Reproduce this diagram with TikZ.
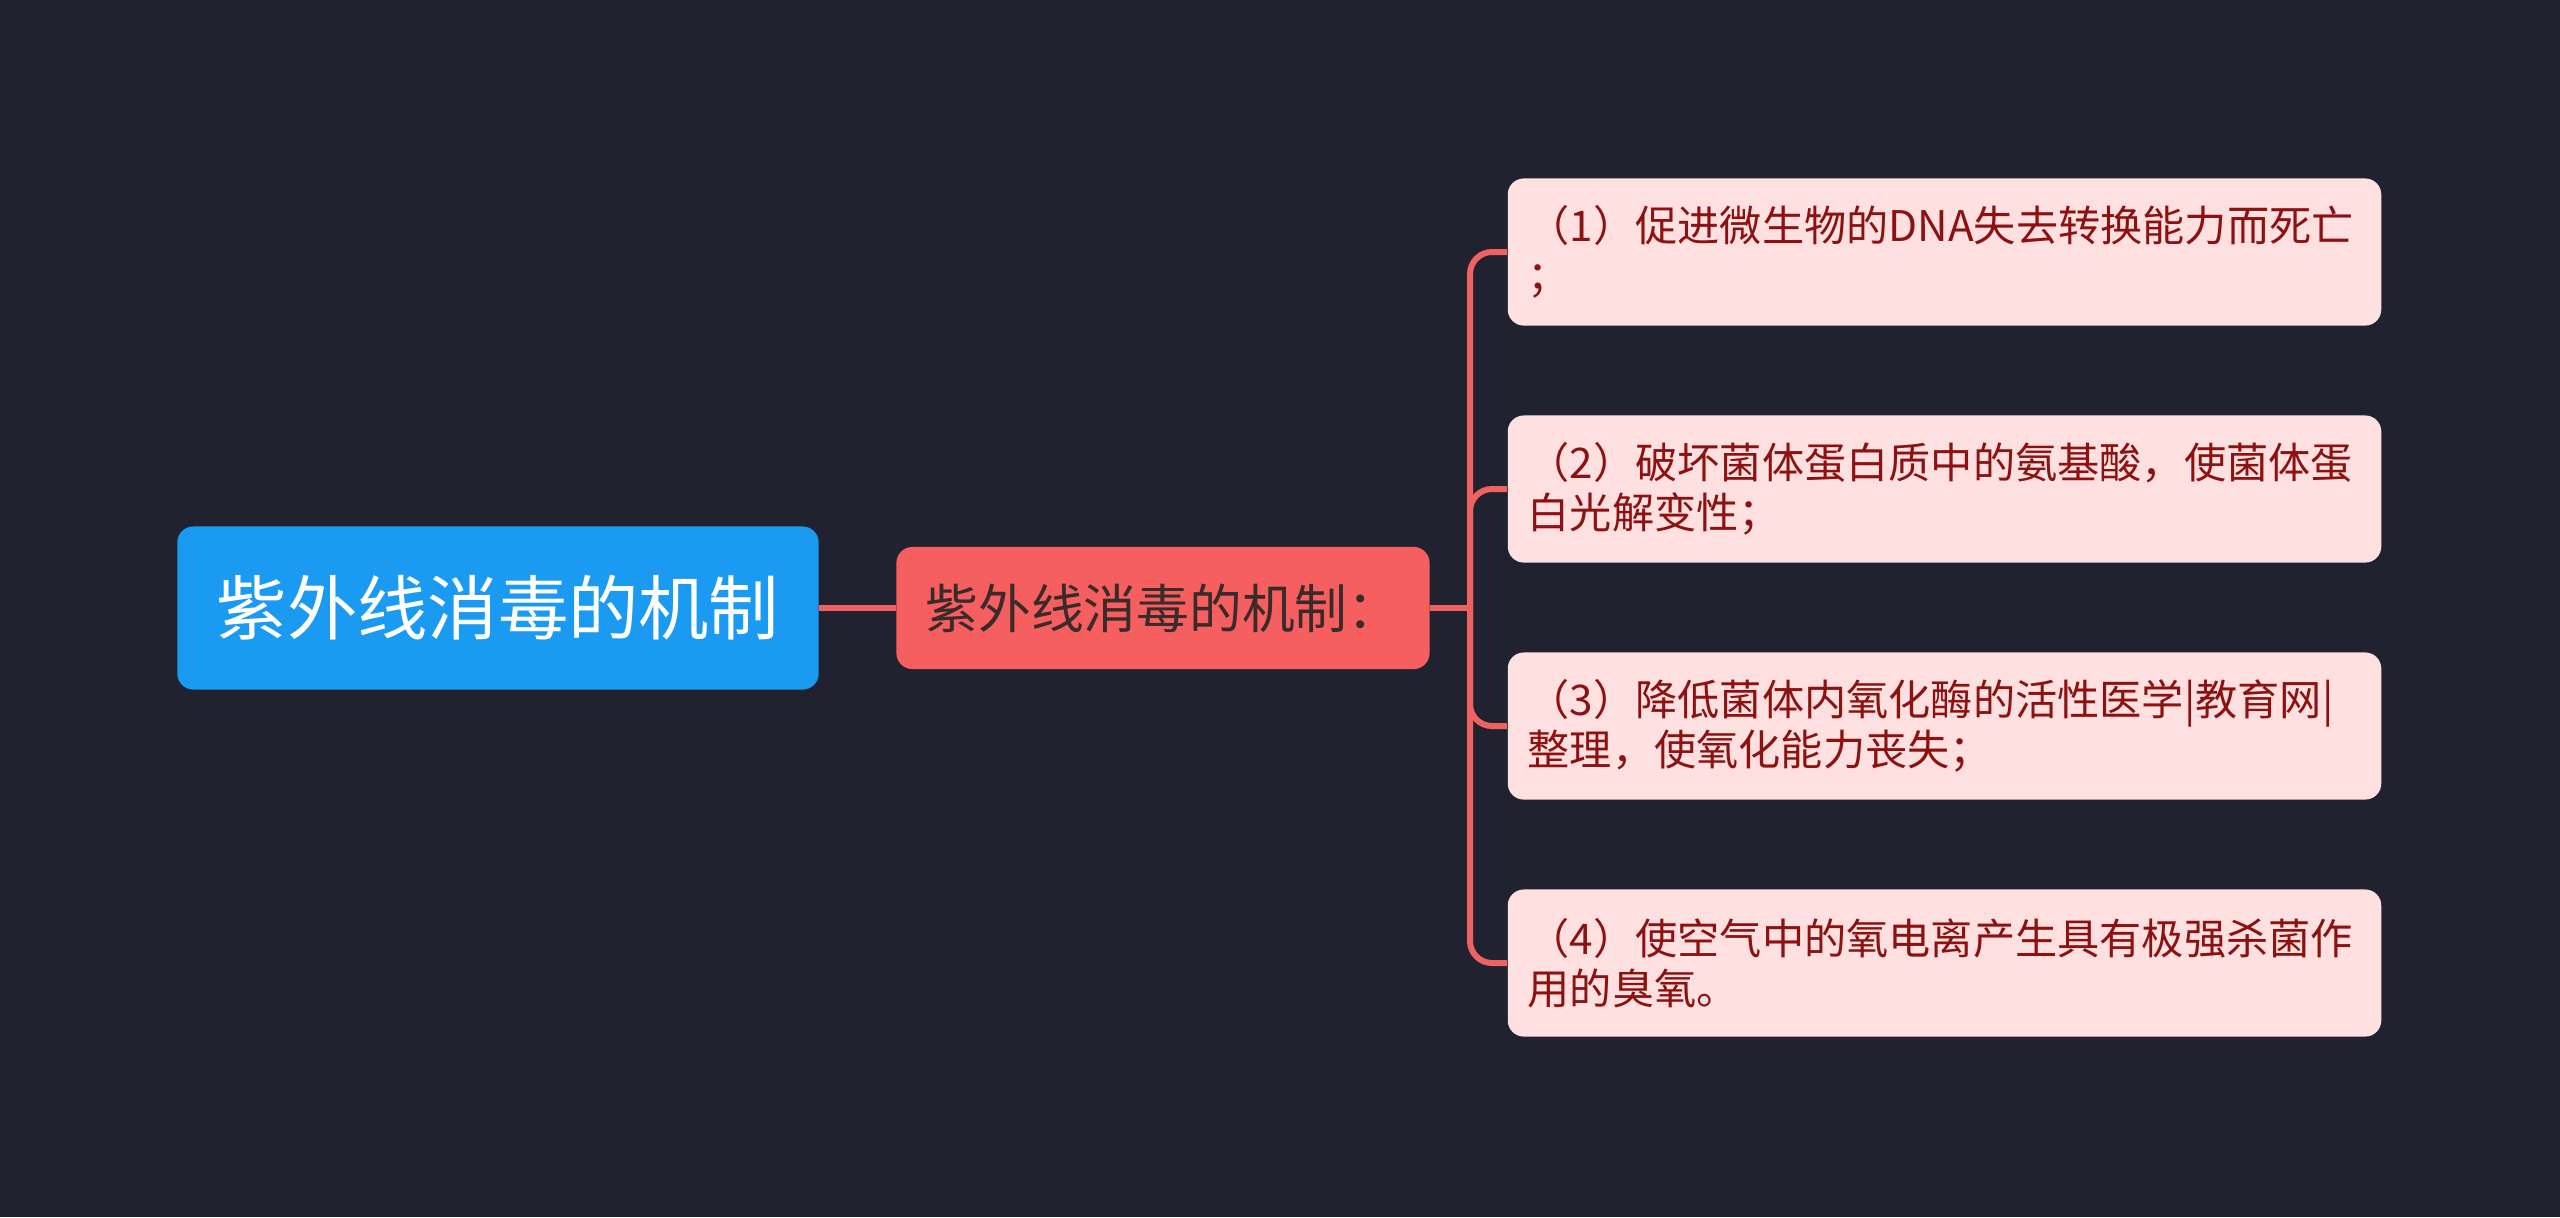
\documentclass[tikz,border=0pt]{standalone}
\usepackage{fontspec}
\newfontfamily\cjk{Noto Sans CJK SC}
\definecolor{bgc}{HTML}{20232F}
\definecolor{rootc}{HTML}{1A9AF0}
\definecolor{midc}{HTML}{F55F5F}
\definecolor{midtxt}{HTML}{3A2A2A}
\definecolor{linec}{HTML}{F06262}
\definecolor{leafc}{HTML}{FFE0E0}
\definecolor{leaftxt}{HTML}{8C1212}
\tikzset{
  rootbox/.style={fill=rootc, rounded corners=0.16cm, minimum width=6.41cm, minimum height=1.63cm, inner sep=0pt, text=white, font=\cjk\fontsize{20pt}{24pt}\selectfont},
  midbox/.style={fill=midc, rounded corners=0.16cm, minimum width=5.33cm, minimum height=1.22cm, inner sep=0pt, text=midtxt, font=\cjk\fontsize{15pt}{18pt}\selectfont},
  leafbox/.style={fill=leafc, rounded corners=0.16cm, text width=8.33cm, inner xsep=0.2cm, inner ysep=0pt, minimum height=1.47cm, align=left, text=leaftxt, font=\cjk\fontsize{12pt}{14.3pt}\selectfont},
  conn/.style={draw=linec, line width=0.06cm},
}
\begin{document}
\begin{tikzpicture}[x=0.01cm,y=-0.01cm]
\fill[bgc] (0,0) rectangle (2560,1217);
\useasboundingbox (0,0) rectangle (2560,1217);
\node[rootbox] (root) at (498,608) {紫外线消毒的机制};
\node[midbox] (mid) at (1163,608) {紫外线消毒的机制：};
\node[leafbox] (l1) at (1944.5,252) {（1）促进微生物的DNA失去转换能力而死亡\\；};
\node[leafbox] (l2) at (1944.5,489) {（2）破坏菌体蛋白质中的氨基酸，使菌体蛋\\白光解变性；};
\node[leafbox] (l3) at (1944.5,726) {（3）降低菌体内氧化酶的活性医学|教育网|\\整理，使氧化能力丧失；};
\node[leafbox] (l4) at (1944.5,963) {（4）使空气中的氧电离产生具有极强杀菌作\\用的臭氧。};
\coordinate (tr) at (1470,608);
\draw[conn] (root.east) -- (mid.west);
\draw[conn] (mid.east) -- (tr);
\draw[conn, rounded corners=0.22cm] (tr) |- (l1.west);
\draw[conn, rounded corners=0.22cm] (tr) |- (l2.west);
\draw[conn, rounded corners=0.22cm] (tr) |- (l3.west);
\draw[conn, rounded corners=0.22cm] (tr) |- (l4.west);
\end{tikzpicture}
\end{document}
